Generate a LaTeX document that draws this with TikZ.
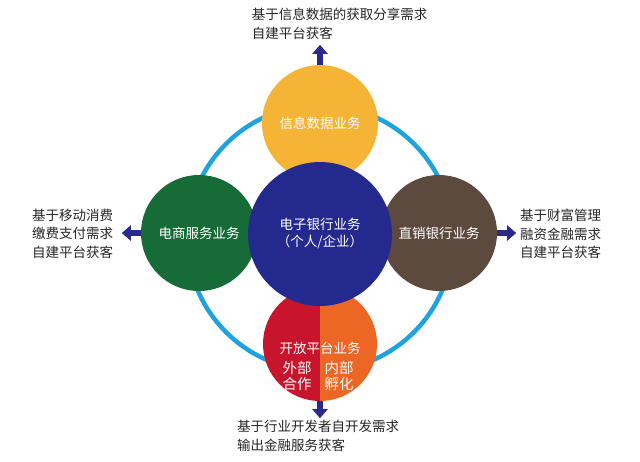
\documentclass[tikz,border=0pt]{standalone}
\usepackage{fontspec}
\setmainfont{Noto Sans CJK SC}
\usetikzlibrary{arrows.meta}
\definecolor{cring}{HTML}{1EA3DF}
\definecolor{cyellow}{HTML}{F6B436}
\definecolor{cblue}{HTML}{242A8D}
\definecolor{cgreen}{HTML}{166B37}
\definecolor{cbrown}{HTML}{5C4A3E}
\definecolor{cred}{HTML}{C8152D}
\definecolor{corange}{HTML}{EC6624}
\definecolor{carrow}{HTML}{2B2A8C}
\definecolor{ctext}{HTML}{262626}
\begin{document}
\begin{tikzpicture}[x=1pt,y=-1pt,
  bubble/.style={circle, inner sep=0pt, minimum size=#1, text=white,
    font=\fontsize{13.5}{17}\selectfont, align=center},
  wtext/.style={inner sep=0pt, text=white, font=\fontsize{13.5}{16}\selectfont, align=center},
  subtext/.style={inner sep=0pt, text=white, font=\fontsize{14.5}{16}\selectfont, align=center},
  note/.style={inner sep=0pt, text=ctext, font=\fontsize{13.5}{18.5}\selectfont},
  outarrow/.style={carrow, line width=6pt, -{Triangle[width=15pt,length=9pt]}}]
\useasboundingbox[fill=white] (0,0) rectangle (640,461);
% ring
\draw[cring, line width=4.5pt] (320,238) circle[radius=133pt];
% outer bubbles
\node[bubble=116pt, fill=cyellow] (info) at (320,123) {信息数据业务};
\node[bubble=116pt, fill=cgreen] (shop) at (199,233) {电商服务业务};
\node[bubble=116pt, fill=cbrown] (direct) at (439,233) {直销银行业务};
\node[bubble=114pt] (open) at (320,344) {};
\begin{scope}
  \clip (250,280) rectangle (320,410);
  \fill[cred] (open.center) circle[radius=57pt];
\end{scope}
\begin{scope}
  \clip (320,280) rectangle (390,410);
  \fill[corange] (open.center) circle[radius=57pt];
\end{scope}
% centre
\node[bubble=144pt, fill=cblue] (ebank) at (320,234) {电子银行业务\\（个人/企业）};
% bottom bubble texts
\node[wtext] (opentitle) at (320,348) {开放平台业务};
\node[subtext] (ext) at (297,376) {外部\\合作};
\node[subtext] (int) at (339,376) {内部\\孵化};
% arrows
\draw[outarrow] (info.north) -- ++(0,-20);
\draw[outarrow] (shop.west) -- ++(-19,0);
\draw[outarrow] (direct.east) -- ++(19,0);
\draw[outarrow] (open.south) -- ++(0,17);
% notes
\node[note, align=left] (topnote) at (339.5,24) {基于信息数据的获取分享需求\\自建平台获客};
\node[note, align=center] (leftnote) at (72.5,233.5) {基于移动消费\\缴费支付需求\\自建平台获客};
\node[note, align=center] (rightnote) at (560.5,234) {基于财富管理\\融资金融需求\\自建平台获客};
\node[note, align=left] (bottomnote) at (318,436) {基于行业开发者自开发需求\\输出金融服务获客};
\end{tikzpicture}
\end{document}
